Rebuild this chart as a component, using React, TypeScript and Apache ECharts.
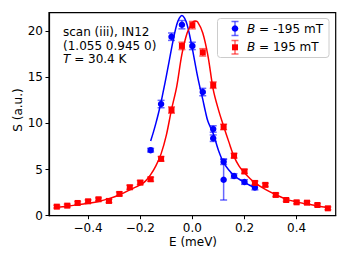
import React, { useEffect, useRef } from "react";
import * as echarts from "echarts";

// Measured points, B = -195 mT (blue)
const blueE = [-0.16, -0.12, -0.08, -0.04, 0.0, 0.04, 0.08, 0.08, 0.12, 0.12, 0.16, 0.2, 0.24];
const blueS = [7.1, 12.1, 19.4, 20.7, 18.4, 13.4, 9.4, 8.4, 5.85, 3.9, 4.3, 3.65, 3.05];
const blueErr = [0.2, 0.4, 0.4, 0.45, 0.4, 0.4, 0.35, 0.35, 0.3, 2.2, 0.25, 0.25, 0.25];

// Measured points, B = 195 mT (red)
const redE = [-0.52, -0.48, -0.44, -0.4, -0.36, -0.32, -0.28, -0.24, -0.2, -0.16, -0.12, -0.08, -0.04, 0.0, 0.04, 0.08, 0.12, 0.16, 0.2, 0.24, 0.28, 0.32, 0.36, 0.4, 0.44, 0.48, 0.52];
const redS = [0.98, 1.09, 1.38, 1.56, 1.78, 1.6, 2.36, 3.08, 3.59, 3.95, 6.16, 11.45, 18.4, 20.65, 17.7, 14.15, 9.62, 6.5, 4.8, 3.55, 3.34, 2.25, 1.7, 1.45, 1.41, 1.16, 0.8];
const redErr = [0.15, 0.15, 0.15, 0.15, 0.15, 0.18, 0.2, 0.22, 0.22, 0.22, 0.25, 0.35, 0.4, 0.4, 0.4, 0.35, 0.3, 0.25, 0.22, 0.2, 0.18, 0.18, 0.15, 0.15, 0.15, 0.15, 0.15];

// Fit curves
const blueFitE = [-0.16, -0.15, -0.14, -0.13, -0.12, -0.11, -0.1, -0.09, -0.08, -0.07, -0.06, -0.05, -0.04, -0.03, -0.02, -0.01, 0.0, 0.01, 0.02, 0.03, 0.04, 0.05, 0.06, 0.08, 0.1, 0.12, 0.14, 0.16, 0.18, 0.2, 0.22, 0.24];
const blueFitS = [8.1, 9.0, 10.0, 11.1, 12.3, 13.7, 15.1, 16.6, 18.1, 19.5, 20.7, 21.4, 21.7, 21.4, 20.7, 19.5, 18.1, 16.6, 15.1, 13.8, 12.6, 11.3, 10.2, 8.9, 7.1, 5.75, 4.95, 4.35, 3.95, 3.62, 3.3, 3.05];

const redFitE = [-0.52, -0.48, -0.44, -0.4, -0.36, -0.32, -0.28, -0.24, -0.2, -0.18, -0.16, -0.14, -0.12, -0.1, -0.08, -0.06, -0.04, -0.02, 0.0, 0.01, 0.02, 0.04, 0.06, 0.08, 0.1, 0.12, 0.14, 0.16, 0.18, 0.2, 0.22, 0.24, 0.28, 0.32, 0.36, 0.4, 0.44, 0.48, 0.52];
const redFitS = [0.92, 1.03, 1.18, 1.35, 1.55, 1.85, 2.25, 2.8, 3.35, 3.75, 4.45, 5.4, 6.7, 8.7, 11.5, 14.0, 17.5, 19.8, 20.9, 21.1, 21.0, 19.8, 17.3, 13.7, 11.5, 9.7, 8.0, 6.4, 5.35, 4.65, 4.05, 3.55, 2.85, 2.28, 1.8, 1.5, 1.27, 1.05, 0.88];

const xTicks = [-0.4, -0.2, 0.0, 0.2, 0.4];
const yTicks = [0, 5, 10, 15, 20];

const BLUE = "#0000ff";
const RED = "#ff0000";
const FONT = "DejaVu Sans";

function errorSeries(E: number[], S: number[], err: number[], color: string) {
  return {
    type: "custom",
    data: E.map((e, i) => [e, S[i] - err[i], S[i] + err[i]]),
    encode: { x: 0, y: [1, 2] },
    z: 2,
    renderItem: (params: any, api: any) => {
      const x = api.value(0);
      const p1 = api.coord([x, api.value(1)]);
      const p2 = api.coord([x, api.value(2)]);
      const st = { stroke: color, lineWidth: 1.5, opacity: 0.6 };
      const hw = 3.5;
      return {
        type: "group",
        children: [
          { type: "line", shape: { x1: p1[0], y1: p1[1], x2: p2[0], y2: p2[1] }, style: st },
          { type: "line", shape: { x1: p1[0] - hw, y1: p1[1], x2: p1[0] + hw, y2: p1[1] }, style: st },
          { type: "line", shape: { x1: p2[0] - hw, y1: p2[1], x2: p2[0] + hw, y2: p2[1] }, style: st },
        ],
      };
    },
  };
}

export default function App() {
  const ref = useRef<HTMLDivElement>(null);
  useEffect(() => {
    if (!ref.current) return;
    const chart = echarts.init(ref.current, null, { renderer: "svg" });
    const axisCommon = {
      axisLine: { show: true, onZero: false, lineStyle: { color: "#000", width: 1.2 } },
      axisTick: { show: true, length: 3.5, inside: false, lineStyle: { color: "#000", width: 1 } },
      splitLine: { show: false },
    };
    chart.setOption({
      animation: false,
      backgroundColor: "#fff",
      textStyle: { fontFamily: FONT },
      grid: {
        left: 49,
        right: 13.3,
        top: 12.7,
        bottom: 46.3,
        show: true,
        borderColor: "#000",
        borderWidth: 1.2,
        backgroundColor: "transparent",
      },
      xAxis: {
        type: "value",
        min: -0.55,
        max: 0.55,
        ...axisCommon,
        axisTick: { ...axisCommon.axisTick, customValues: xTicks },
        axisLabel: {
          customValues: xTicks,
          margin: 6,
          color: "#000",
          fontSize: 12,
          fontFamily: FONT,
          formatter: (v: number) => (v < -1e-9 ? "\u2212" : "") + Math.abs(v).toFixed(1),
        },
      },
      yAxis: {
        type: "value",
        min: 0,
        max: 22,
        ...axisCommon,
        axisTick: { ...axisCommon.axisTick, customValues: yTicks },
        axisLabel: {
          customValues: yTicks,
          margin: 6,
          color: "#000",
          fontSize: 12,
          fontFamily: FONT,
        },
      },
      series: [
        errorSeries(blueE, blueS, blueErr, BLUE),
        errorSeries(redE, redS, redErr, RED),
        {
          type: "scatter",
          data: blueE.map((e, i) => [e, blueS[i]]),
          symbol: "circle",
          symbolSize: 6.5,
          itemStyle: { color: BLUE, opacity: 1 },
          z: 3,
        },
        {
          type: "scatter",
          data: redE.map((e, i) => [e, redS[i]]),
          symbol: "rect",
          symbolSize: 6,
          itemStyle: { color: RED, opacity: 1 },
          z: 3,
        },
        {
          type: "line",
          data: blueFitE.map((e, i) => [e, blueFitS[i]]),
          showSymbol: false,
          smooth: 0.35,
          lineStyle: { color: BLUE, width: 1.5 },
          z: 4,
        },
        {
          type: "line",
          data: redFitE.map((e, i) => [e, redFitS[i]]),
          showSymbol: false,
          smooth: 0.35,
          lineStyle: { color: RED, width: 1.5 },
          z: 4,
        },
      ],
      graphic: [
        // axis titles
        {
          type: "text",
          x: 193,
          y: 242,
          style: { text: "E (meV)", fontSize: 12, fontFamily: FONT, fill: "#000", align: "center", verticalAlign: "middle" },
        },
        {
          type: "text",
          x: 18,
          y: 110,
          rotation: Math.PI / 2,
          style: { text: "S (a.u.)", fontSize: 12, fontFamily: FONT, fill: "#000", align: "center", verticalAlign: "middle" },
        },
        // annotation
        {
          type: "text",
          x: 63,
          y: 32.3,
          style: { text: "scan (iii), IN12", fontSize: 12, fontFamily: FONT, fill: "#000", align: "left", verticalAlign: "middle" },
        },
        {
          type: "text",
          x: 63,
          y: 45.5,
          style: { text: "(1.055 0.945 0)", fontSize: 12, fontFamily: FONT, fill: "#000", align: "left", verticalAlign: "middle" },
        },
        {
          type: "text",
          x: 63,
          y: 58.5,
          style: {
            text: "{i|T} = 30.4 K",
            fontSize: 12,
            fontFamily: FONT,
            fill: "#000",
            align: "left",
            verticalAlign: "middle",
            rich: { i: { fontStyle: "italic", fontSize: 12, fontFamily: FONT, fill: "#000" } },
          },
        },
        // legend
        {
          type: "rect",
          shape: { x: 217.5, y: 18.5, width: 111.5, height: 39, r: 3 },
          style: { fill: "rgba(255,255,255,0.8)", stroke: "#cccccc", lineWidth: 1 },
          z: 10,
        },
        { type: "line", shape: { x1: 235, y1: 21.5, x2: 235, y2: 35.5 }, style: { stroke: BLUE, lineWidth: 1.5, opacity: 0.6 }, z: 11 },
        { type: "line", shape: { x1: 231.5, y1: 21.5, x2: 238.5, y2: 21.5 }, style: { stroke: BLUE, lineWidth: 1.5, opacity: 0.6 }, z: 11 },
        { type: "line", shape: { x1: 231.5, y1: 35.5, x2: 238.5, y2: 35.5 }, style: { stroke: BLUE, lineWidth: 1.5, opacity: 0.6 }, z: 11 },
        { type: "circle", shape: { cx: 235, cy: 28.5, r: 3.3 }, style: { fill: BLUE }, z: 12 },
        { type: "line", shape: { x1: 235, y1: 40.5, x2: 235, y2: 54 }, style: { stroke: RED, lineWidth: 1.5, opacity: 0.6 }, z: 11 },
        { type: "line", shape: { x1: 231.5, y1: 40.5, x2: 238.5, y2: 40.5 }, style: { stroke: RED, lineWidth: 1.5, opacity: 0.6 }, z: 11 },
        { type: "line", shape: { x1: 231.5, y1: 54, x2: 238.5, y2: 54 }, style: { stroke: RED, lineWidth: 1.5, opacity: 0.6 }, z: 11 },
        { type: "rect", shape: { x: 232, y: 44.3, width: 6, height: 6 }, style: { fill: RED }, z: 12 },
        {
          type: "text",
          x: 247,
          y: 28.5,
          z: 12,
          style: {
            text: "{i|B} = -195 mT",
            fontSize: 12,
            fontFamily: FONT,
            fill: "#000",
            align: "left",
            verticalAlign: "middle",
            rich: { i: { fontStyle: "italic", fontSize: 12, fontFamily: FONT, fill: "#000" } },
          },
        },
        {
          type: "text",
          x: 247,
          y: 47.3,
          z: 12,
          style: {
            text: "{i|B} = 195 mT",
            fontSize: 12,
            fontFamily: FONT,
            fill: "#000",
            align: "left",
            verticalAlign: "middle",
            rich: { i: { fontStyle: "italic", fontSize: 12, fontFamily: FONT, fill: "#000" } },
          },
        },
      ],
    });
    return () => chart.dispose();
  }, []);
  return <div ref={ref} style={{ width: 349, height: 262, position: "absolute", left: 0, top: 0 }} />;
}
